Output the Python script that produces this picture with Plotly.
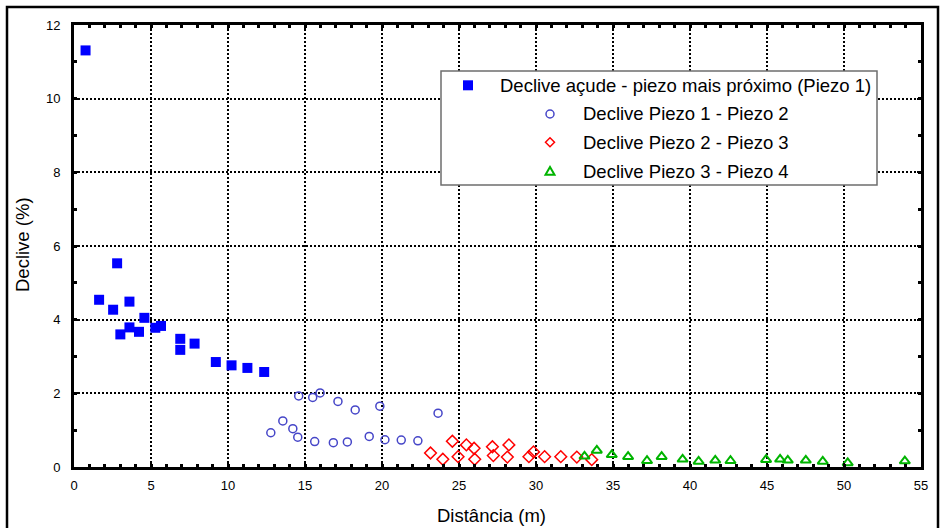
import plotly.graph_objects as go

# Declive açude - piezo mais próximo (Piezo 1)
dist_p1 = [0.75, 1.63, 2.54, 2.80, 3.01, 3.60, 3.60, 4.22, 4.57, 5.28, 5.65,
           6.90, 6.90, 7.83, 9.21, 10.23, 11.26, 12.35]
decl_p1 = [11.31, 4.54, 4.27, 5.53, 3.60, 4.49, 3.79, 3.67, 4.05, 3.78, 3.83,
           3.48, 3.18, 3.35, 2.85, 2.76, 2.69, 2.58]

# Declive Piezo 1 - Piezo 2
dist_p12 = [12.78, 13.56, 14.21, 14.53, 14.59, 15.50, 15.98, 15.63, 16.84, 17.75,
            17.14, 18.26, 19.17, 19.86, 20.19, 21.25, 22.33, 23.64]
decl_p12 = [0.93, 1.25, 1.04, 0.81, 1.93, 1.89, 2.01, 0.69, 0.66, 0.68,
            1.78, 1.55, 0.83, 1.65, 0.74, 0.73, 0.71, 1.46]

# Declive Piezo 2 - Piezo 3
dist_p23 = [23.15, 23.95, 24.57, 24.94, 25.48, 25.98, 26.02, 27.17, 27.23, 28.24,
            28.14, 29.54, 29.84, 30.56, 31.61, 32.65, 33.62]
decl_p23 = [0.38, 0.21, 0.70, 0.28, 0.60, 0.51, 0.21, 0.55, 0.31, 0.60,
            0.27, 0.28, 0.41, 0.28, 0.28, 0.27, 0.20]

# Declive Piezo 3 - Piezo 4
dist_p34 = [33.15, 33.95, 34.92, 35.98, 37.21, 38.16, 39.52, 40.56, 41.64, 42.63,
            44.94, 45.85, 46.35, 47.52, 48.62, 50.24, 53.95]
decl_p34 = [0.29, 0.45, 0.33, 0.28, 0.17, 0.28, 0.21, 0.15, 0.18, 0.17,
            0.20, 0.21, 0.18, 0.18, 0.15, 0.11, 0.16]

series_names = [
    "Declive açude - piezo mais próximo (Piezo 1)",
    "Declive Piezo 1 - Piezo 2",
    "Declive Piezo 2 - Piezo 3",
    "Declive Piezo 3 - Piezo 4",
]

x_ticks = [0, 5, 10, 15, 20, 25, 30, 35, 40, 45, 50, 55]
y_ticks = [0, 2, 4, 6, 8, 10, 12]

FONT = "Liberation Sans, Arial, sans-serif"
W, H = 949, 528
ML, MR, MT, MB = 74, 28, 25, 61
PW, PH = W - ML - MR, H - MT - MB

BLUE, CIRC, RED, GREEN = "#0000FF", "#4646C8", "#FF0000", "#00B400"


def px_x(px):
    return (px - ML) / PW


def px_y(py):
    return (H - MB - py) / PH


styles = [
    dict(symbol="square", size=10, color=BLUE, line=dict(width=0)),
    dict(symbol="circle-open", size=8, color=CIRC, line=dict(width=1.5, color=CIRC)),
    dict(symbol="diamond-open", size=9, color=RED, line=dict(width=1.5, color=RED)),
    dict(symbol="triangle-up-open", size=9, color=GREEN, line=dict(width=2, color=GREEN)),
]
series = [(dist_p1, decl_p1), (dist_p12, decl_p12), (dist_p23, decl_p23), (dist_p34, decl_p34)]

fig = go.Figure()
for (xs, ys), name, st in zip(series, series_names, styles):
    fig.add_trace(go.Scatter(x=xs, y=ys, mode="markers", name=name,
                             marker=st, showlegend=False, cliponaxis=False))

# hand-drawn legend: white frame over the grid, symbol keys as pixel-sized shapes
leg_rows = [85.3, 114, 142.3, 171.3]
leg_key_x = [468, 550, 550, 550]
leg_text_x = [498, 581, 581, 581]

shapes = [
    dict(type="rect", xref="paper", yref="paper", x0=px_x(441), x1=px_x(877),
         y0=px_y(185), y1=px_y(71), line=dict(color="#6E6E6E", width=1.5),
         fillcolor="white", layer="above"),
    # outer frame
    dict(type="rect", xref="paper", yref="paper", x0=px_x(7), x1=px_x(938),
         y0=px_y(545), y1=px_y(7), line=dict(color="black", width=2.5)),
]

key_shapes = [
    dict(type="rect", x0=-5, x1=5, y0=-5, y1=5, fillcolor=BLUE, line=dict(width=0)),
    dict(type="circle", x0=-4, x1=4, y0=-4, y1=4, fillcolor="white",
         line=dict(color=CIRC, width=1.5)),
    dict(type="path", path="M0,4.5L4.5,0L0,-4.5L-4.5,0Z", fillcolor="white",
         line=dict(color=RED, width=1.5)),
    dict(type="path", path="M-4.5,-3.5L4.5,-3.5L0,4.3Z", fillcolor="white",
         line=dict(color=GREEN, width=2)),
]
for i, ks in enumerate(key_shapes):
    ks.update(xref="paper", yref="paper", xsizemode="pixel", ysizemode="pixel",
              xanchor=px_x(leg_key_x[i]), yanchor=px_y(leg_rows[i]), layer="above")
    shapes.append(ks)
    fig.add_annotation(x=px_x(leg_text_x[i]), y=px_y(leg_rows[i]), xref="paper", yref="paper",
                       text=series_names[i], showarrow=False, xanchor="left", yanchor="middle",
                       font=dict(family=FONT, size=18.5, color="black"))

fig.add_annotation(x=px_x(491), y=px_y(515), xref="paper", yref="paper", text="Distância (m)",
                   showarrow=False, xanchor="center", yanchor="middle",
                   font=dict(family=FONT, size=18.5, color="black"))
fig.add_annotation(x=px_x(22), y=px_y(245), xref="paper", yref="paper", text="Declive (%)",
                   showarrow=False, textangle=-90, xanchor="center", yanchor="middle",
                   font=dict(family=FONT, size=18.5, color="black"))

axis_common = dict(
    showline=True, linecolor="black", linewidth=3, mirror="allticks",
    ticks="inside", ticklen=4, tickwidth=2, tickcolor="black",
    showgrid=True, gridcolor="black", zeroline=False,
    tickfont=dict(family=FONT, size=13, color="black"),
)

fig.update_layout(
    width=W, height=H,
    margin=dict(l=ML, r=MR, t=MT, b=MB),
    paper_bgcolor="white", plot_bgcolor="rgba(0,0,0,0)",
    showlegend=False,
    shapes=shapes,
    xaxis=dict(range=[0, 55], tickvals=x_ticks, gridwidth=2, griddash="2px,2px",
               minor=dict(dtick=1, ticks="inside", ticklen=3, tickwidth=3, tickcolor="black", showgrid=False),
               ticklabelstandoff=4, **axis_common),
    yaxis=dict(range=[0, 12], tickvals=y_ticks, gridwidth=1.5, griddash="2px,2px",
               minor=dict(dtick=1, ticks="inside", ticklen=3, tickwidth=3, tickcolor="black", showgrid=False),
               ticklabelstandoff=8, **axis_common),
)

fig.write_html("out.html")
